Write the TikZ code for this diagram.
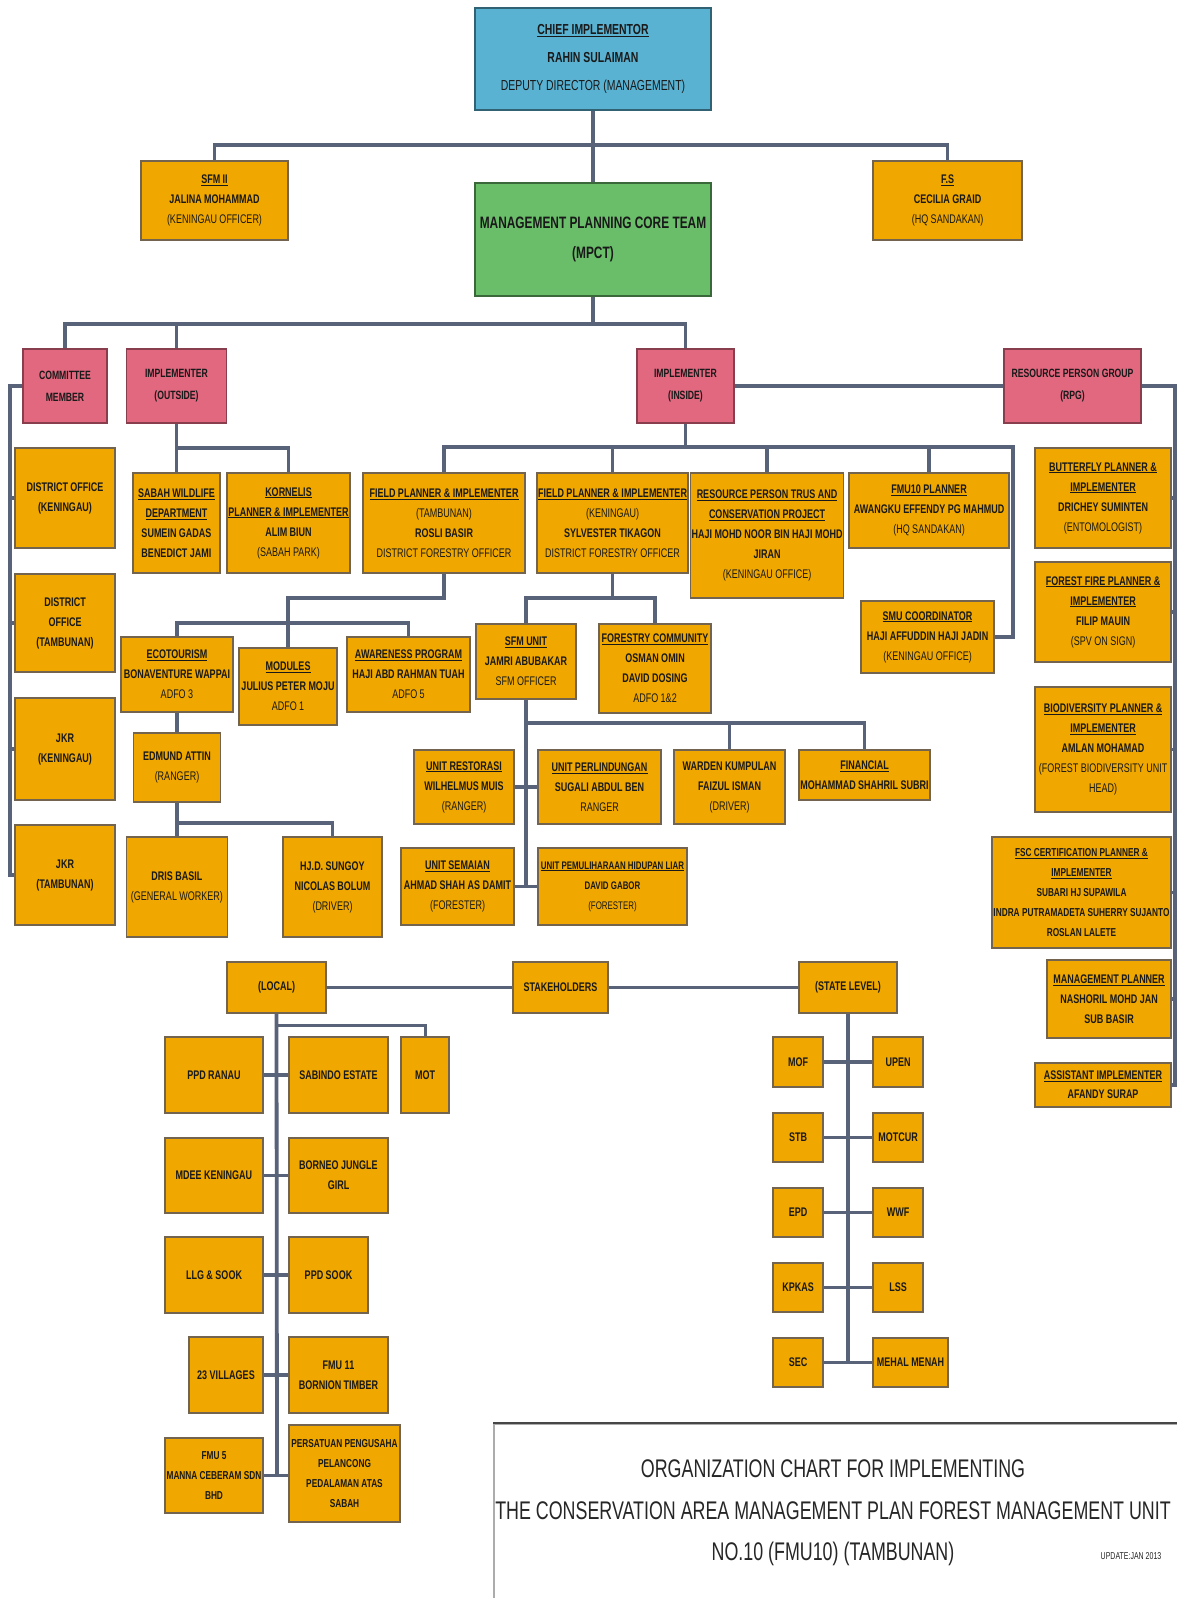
\documentclass[tikz,border=0pt]{standalone}
\usepackage{fontspec}
\setmainfont[FakeStretch=0.72]{Liberation Sans}
\newfontfamily\titlefont[FakeStretch=0.70]{Liberation Sans}
\definecolor{orng}{RGB}{240,168,0}
\definecolor{boxln}{RGB}{115,100,80}
\definecolor{pnk}{RGB}{226,104,128}
\definecolor{blu}{RGB}{90,178,210}
\definecolor{grn}{RGB}{106,190,106}
\definecolor{lnk}{RGB}{88,98,120}
\newcommand\regtxt[1]{{\mdseries #1}}
\tikzset{
  bx/.style={draw=boxln, line width=1.4pt, fill=orng, align=center, inner sep=1pt,
    font=\fontsize{12.5}{20}\selectfont\bfseries, text=black!90},
  pbx/.style={bx, fill=pnk, draw=pnk!60!black, font=\fontsize{12}{22}\selectfont\bfseries},
  wh/.style 2 args={minimum width=#1pt, minimum height=#2pt},
  conn/.style={draw=lnk, line width=3.8pt},
  lconn/.style={draw=lnk, line width=3pt},
}
\begin{document}
\begin{tikzpicture}[x=1pt,y={(0pt,-1pt)}]
\useasboundingbox[fill=white] (0,0) rectangle (1177,1598);

% ---------- top ----------
\node[bx, fill=blu, draw=blu!55!black, wh={236}{102}, font=\fontsize{14.5}{28}\selectfont\bfseries] (chief) at (593,59)
  {\underline{CHIEF IMPLEMENTOR}\\RAHIN SULAIMAN\\\regtxt{DEPUTY DIRECTOR (MANAGEMENT)}};
\node[bx, wh={147}{79}] (sfm) at (214.5,200.5) {\underline{SFM II}\\JALINA MOHAMMAD\\\regtxt{(KENINGAU OFFICER)}};
\node[bx, wh={149}{79}] (fs) at (947.5,200.5) {\underline{F.S}\\CECILIA GRAID\\\regtxt{(HQ SANDAKAN)}};
\node[bx, fill=grn, draw=grn!55!black, wh={236}{113}, font=\fontsize{16.5}{30}\selectfont\bfseries] (mpct) at (593,239.5)
  {MANAGEMENT PLANNING CORE TEAM\\(MPCT)};

% ---------- pink ----------
\node[pbx, wh={84}{74}] (committee) at (65,386) {COMMITTEE\\MEMBER};
\node[pbx, wh={100}{74}] (outside) at (176.5,386) {IMPLEMENTER\\(OUTSIDE)};
\node[pbx, wh={97}{74}] (inside) at (685.5,386) {IMPLEMENTER\\(INSIDE)};
\node[pbx, wh={137}{74}] (rpg) at (1072.5,386) {RESOURCE PERSON GROUP\\(RPG)};

% ---------- committee column ----------
\node[bx, wh={100}{100}] (doken) at (65,498) {DISTRICT OFFICE\\(KENINGAU)};
\node[bx, wh={100}{98}] (dotam) at (65,623) {DISTRICT\\OFFICE\\(TAMBUNAN)};
\node[bx, wh={100}{102}] (jkrken) at (65,749) {JKR\\(KENINGAU)};
\node[bx, wh={100}{100}] (jkrtam) at (65,875) {JKR\\(TAMBUNAN)};

% ---------- outside ----------
\node[bx, wh={87}{100}] (swd) at (176.5,523) {\underline{SABAH WILDLIFE}\\\underline{DEPARTMENT}\\SUMEIN GADAS\\BENEDICT JAMI};
\node[bx, wh={123}{100}] (korn) at (288.5,523) {\underline{KORNELIS}\\\underline{PLANNER \& IMPLEMENTER}\\ALIM BIUN\\\regtxt{(SABAH PARK)}};

% ---------- inside ----------
\node[bx, wh={162}{100}] (fpt) at (444,523) {\underline{FIELD PLANNER \& IMPLEMENTER}\\\regtxt{(TAMBUNAN)}\\ROSLI BASIR\\\regtxt{DISTRICT FORESTRY OFFICER}};
\node[bx, wh={149}{100}] (fpk) at (612.5,523) {\underline{FIELD PLANNER \& IMPLEMENTER}\\\regtxt{(KENINGAU)}\\SYLVESTER TIKAGON\\\regtxt{DISTRICT FORESTRY OFFICER}};
\node[bx, wh={148}{125}] (rpt) at (767,535.5) {\underline{RESOURCE PERSON TRUS AND}\\\underline{CONSERVATION PROJECT}\\HAJI MOHD NOOR BIN HAJI MOHD\\JIRAN\\\regtxt{(KENINGAU OFFICE)}};
\node[bx, wh={160}{75}] (fmu) at (929,510.5) {\underline{FMU10 PLANNER}\\AWANGKU EFFENDY PG MAHMUD\\\regtxt{(HQ SANDAKAN)}};
\node[bx, wh={133}{72}] (smu) at (927.5,637) {\underline{SMU COORDINATOR}\\HAJI AFFUDDIN HAJI JADIN\\\regtxt{(KENINGAU OFFICE)}};

% ---------- RPG column ----------
\node[bx, wh={136}{100}] (butterfly) at (1103,498) {\underline{BUTTERFLY PLANNER \&}\\\underline{IMPLEMENTER}\\DRICHEY SUMINTEN\\\regtxt{(ENTOMOLOGIST)}};
\node[bx, wh={136}{100}] (ffire) at (1103,612) {\underline{FOREST FIRE PLANNER \&}\\\underline{IMPLEMENTER}\\FILIP MAUIN\\\regtxt{(SPV ON SIGN)}};
\node[bx, wh={136}{125}] (biod) at (1103,749.5) {\underline{BIODIVERSITY PLANNER \&}\\\underline{IMPLEMENTER}\\AMLAN MOHAMAD\\\regtxt{(FOREST BIODIVERSITY UNIT}\\\regtxt{HEAD)}};
\node[bx, wh={179}{111}, font=\fontsize{11.5}{20}\selectfont\bfseries] (fsc) at (1081.5,892.5) {\underline{FSC CERTIFICATION PLANNER \&}\\\underline{IMPLEMENTER}\\SUBARI HJ SUPAWILA\\INDRA PUTRAMADETA SUHERRY SUJANTO\\ROSLAN LALETE};
\node[bx, wh={124}{78}] (mgmt) at (1109,999) {\underline{MANAGEMENT PLANNER}\\NASHORIL MOHD JAN\\SUB BASIR};
\node[bx, wh={136}{44}, font=\fontsize{12.5}{19}\selectfont\bfseries] (asst) at (1103,1085) {\underline{ASSISTANT IMPLEMENTER}\\AFANDY SURAP};

% ---------- tambunan branch ----------
\node[bx, wh={112}{75}] (eco) at (177,674.5) {\underline{ECOTOURISM}\\BONAVENTURE WAPPAI\\\regtxt{ADFO 3}};
\node[bx, wh={98}{77}] (modules) at (288,686.5) {\underline{MODULES}\\JULIUS PETER MOJU\\\regtxt{ADFO 1}};
\node[bx, wh={123}{75}] (aware) at (408.5,674.5) {\underline{AWARENESS PROGRAM}\\HAJI ABD RAHMAN TUAH\\\regtxt{ADFO 5}};
\node[bx, wh={87}{69}] (edmund) at (177,767.5) {EDMUND ATTIN\\\regtxt{(RANGER)}};
\node[bx, wh={101}{100}] (dris) at (177,887) {DRIS BASIL\\\regtxt{(GENERAL WORKER)}};
\node[bx, wh={99}{100}] (hjd) at (332.5,887) {HJ.D. SUNGOY\\NICOLAS BOLUM\\\regtxt{(DRIVER)}};

% ---------- keningau branch ----------
\node[bx, wh={100}{75}] (sfmu) at (526,661.5) {\underline{SFM UNIT}\\JAMRI ABUBAKAR\\\regtxt{SFM OFFICER}};
\node[bx, wh={112}{89}] (fcom) at (655,668.5) {\underline{FORESTRY COMMUNITY}\\OSMAN OMIN\\DAVID DOSING\\\regtxt{ADFO 1\&2}};
\node[bx, wh={100}{74}] (restor) at (464,787) {\underline{UNIT RESTORASI}\\WILHELMUS MUIS\\\regtxt{(RANGER)}};
\node[bx, wh={123}{74}] (perlind) at (599.5,787) {\underline{UNIT PERLINDUNGAN}\\SUGALI ABDUL BEN\\\regtxt{RANGER}};
\node[bx, wh={111}{74}] (wakil) at (729.5,787) {WARDEN KUMPULAN\\FAIZUL ISMAN\\\regtxt{(DRIVER)}};
\node[bx, wh={131}{50}] (fin) at (864.5,775) {\underline{FINANCIAL}\\MOHAMMAD SHAHRIL SUBRI};
\node[bx, wh={113}{77}] (semaian) at (457.5,886.5) {\underline{UNIT SEMAIAN}\\AHMAD SHAH AS DAMIT\\\regtxt{(FORESTER)}};
\node[bx, wh={149}{77}, font=\fontsize{11}{20}\selectfont\bfseries] (hidupan) at (612.5,886.5) {\underline{UNIT PEMULIHARAAN HIDUPAN LIAR}\\DAVID GABOR\\\regtxt{(FORESTER)}};

% ---------- stakeholders ----------
\node[bx, wh={99}{51}] (local) at (276.5,987.5) {(LOCAL)};
\node[bx, wh={95}{51}] (stake) at (560.5,987.5) {STAKEHOLDERS};
\node[bx, wh={98}{51}] (state) at (848,987.5) {(STATE LEVEL)};

\node[bx, wh={98}{76}] (ppdr) at (214,1075) {PPD RANAU};
\node[bx, wh={99}{76}] (sabindo) at (338.5,1075) {SABINDO ESTATE};
\node[bx, wh={48}{76}] (mot) at (425,1075) {MOT};
\node[bx, wh={98}{75}] (mdee) at (214,1175.5) {MDEE KENINGAU};
\node[bx, wh={99}{75}] (borneo) at (338.5,1175.5) {BORNEO JUNGLE\\GIRL};
\node[bx, wh={98}{76}] (llg) at (214,1275) {LLG \& SOOK};
\node[bx, wh={79}{76}] (ppds) at (328.5,1275) {PPD SOOK};
\node[bx, wh={74}{76}] (vill) at (226,1375) {23 VILLAGES};
\node[bx, wh={99}{76}] (fmu11) at (338.5,1375) {FMU 11\\BORNION TIMBER};
\node[bx, wh={98}{75}, font=\fontsize{11.5}{20}\selectfont\bfseries] (fmu5) at (214,1475.5) {FMU 5\\MANNA CEBERAM SDN\\BHD};
\node[bx, wh={111}{97}, font=\fontsize{11.5}{20}\selectfont\bfseries] (pers) at (344.5,1473.5) {PERSATUAN PENGUSAHA\\PELANCONG\\PEDALAMAN ATAS\\SABAH};

\node[bx, wh={50}{50}] (mof) at (798,1062) {MOF};
\node[bx, wh={50}{49}] (stb) at (798,1137.5) {STB};
\node[bx, wh={50}{49}] (epd) at (798,1212.5) {EPD};
\node[bx, wh={50}{49}] (kpkas) at (798,1287.5) {KPKAS};
\node[bx, wh={50}{49}] (sec) at (798,1362.5) {SEC};
\node[bx, wh={50}{50}] (upen) at (898,1062) {UPEN};
\node[bx, wh={50}{49}] (motcur) at (898,1137.5) {MOTCUR};
\node[bx, wh={50}{49}] (wwf) at (898,1212.5) {WWF};
\node[bx, wh={50}{49}] (lss) at (898,1287.5) {LSS};
\node[bx, wh={75}{49}] (mehal) at (910.5,1362.5) {MEHAL MENAH};

% ---------- title ----------
\node[draw=gray!65, line width=1.5pt, fill=white, anchor=north west, minimum width=720pt, minimum height=200pt] (tbox) at (493,1423) {};
\draw[gray!55!black, line width=2.5pt] (tbox.north west) -- (tbox.north east);
\node[font=\titlefont\fontsize{25.5}{41.5}\selectfont, align=center, text=black!85] (title) at (833,1513)
  {ORGANIZATION CHART FOR IMPLEMENTING\\THE CONSERVATION AREA MANAGEMENT PLAN FOREST MANAGEMENT UNIT\\NO.10 (FMU10) (TAMBUNAN)};
\node[font=\titlefont\fontsize{10}{11}\selectfont, text=black!85] (upd) at (1131,1556) {UPDATE:JAN 2013};

% ---------- junctions ----------
\coordinate (jA) at (593,145);
\coordinate (jB) at (593,324);
\coordinate (ltop) at (10,386);
\coordinate (rtop) at (1175,386);
\coordinate (jC) at (176.5,448);
\coordinate (jD) at (685.5,447);
\coordinate (jE) at (1013,447);
\coordinate (jF) at (288,598);
\coordinate (jH) at (408.5,623);
\coordinate (jI) at (177,823);
\coordinate (jJ) at (612.5,598);
\coordinate (jK) at (526,887);
\coordinate (jL) at (526,723);
\coordinate (jM) at (277,1475);
\coordinate (jN) at (277,1025);
\coordinate (jO) at (848,1362.5);

% ---------- connectors ----------
\draw[conn] (chief.south) -- (mpct.north);
\draw[conn] (sfm.north) |- (jA) -| (fs.north);
\draw[conn] (mpct.south) -- (jB);
\draw[conn] (committee.north) |- (jB) -| (inside.north);
\draw[conn] (outside.north) -- (outside.north |- jB);
\draw[conn] (inside.east) -- (rpg.west);
\draw[conn] (rpg.east) -- (rtop) -- (rtop |- asst.east) -- (asst.east);
\foreach \n in {butterfly,ffire,biod,fsc,mgmt} \draw[conn] (\n.east) -- (\n.east -| rtop);
\draw[conn] (committee.west) -- (ltop) -- (ltop |- jkrtam.west) -- (jkrtam.west);
\foreach \n in {doken,dotam,jkrken} \draw[conn] (\n.west) -- (\n.west -| ltop);
\draw[conn] (outside.south) -- (swd.north);
\draw[conn] (jC) -| (korn.north);
\draw[conn] (inside.south) -- (jD);
\draw[conn] (fpt.north) |- (jE) -- (jE |- smu.east) -- (smu.east);
\foreach \n in {fpk,rpt,fmu} \draw[conn] (\n.north) -- (\n.north |- jD);
\draw[conn] (fpt.south) |- (jF) -- (modules.north);
\draw[conn] (eco.north) |- (jH) -- (aware.north);
\draw[conn] (eco.south) -- (edmund.north);
\draw[conn] (edmund.south) -- (dris.north);
\draw[conn] (jI) -| (hjd.north);
\draw[conn] (fpk.south) -- (jJ);
\draw[conn] (sfmu.north) |- (jJ) -| (fcom.north);
\draw[conn] (sfmu.south) -- (jK);
\draw[conn] (jL) -| (fin.north);
\draw[conn] (wakil.north) -- (wakil.north |- jL);
\draw[conn] (restor.east) -- (perlind.west);
\draw[conn] (semaian.east) -- (hidupan.west);
\draw[conn] (local.east) -- (stake.west);
\draw[conn] (stake.east) -- (state.west);
\draw[conn] (local.south) -- (jM);
\draw[lconn] (jN) -| (mot.north);
\draw[conn] (ppdr.east) -- (sabindo.west);
\draw[conn] (mdee.east) -- (borneo.west);
\draw[conn] (llg.east) -- (ppds.west);
\draw[conn] (vill.east) -- (fmu11.west);
\draw[conn] (fmu5.east) -- (fmu5.east -| pers.west);
\draw[conn] (state.south) -- (jO);
\draw[conn] (mof.east) -- (upen.west);
\draw[conn] (stb.east) -- (motcur.west);
\draw[conn] (epd.east) -- (wwf.west);
\draw[conn] (kpkas.east) -- (lss.west);
\draw[conn] (sec.east) -- (mehal.west);
\end{tikzpicture}
\end{document}
